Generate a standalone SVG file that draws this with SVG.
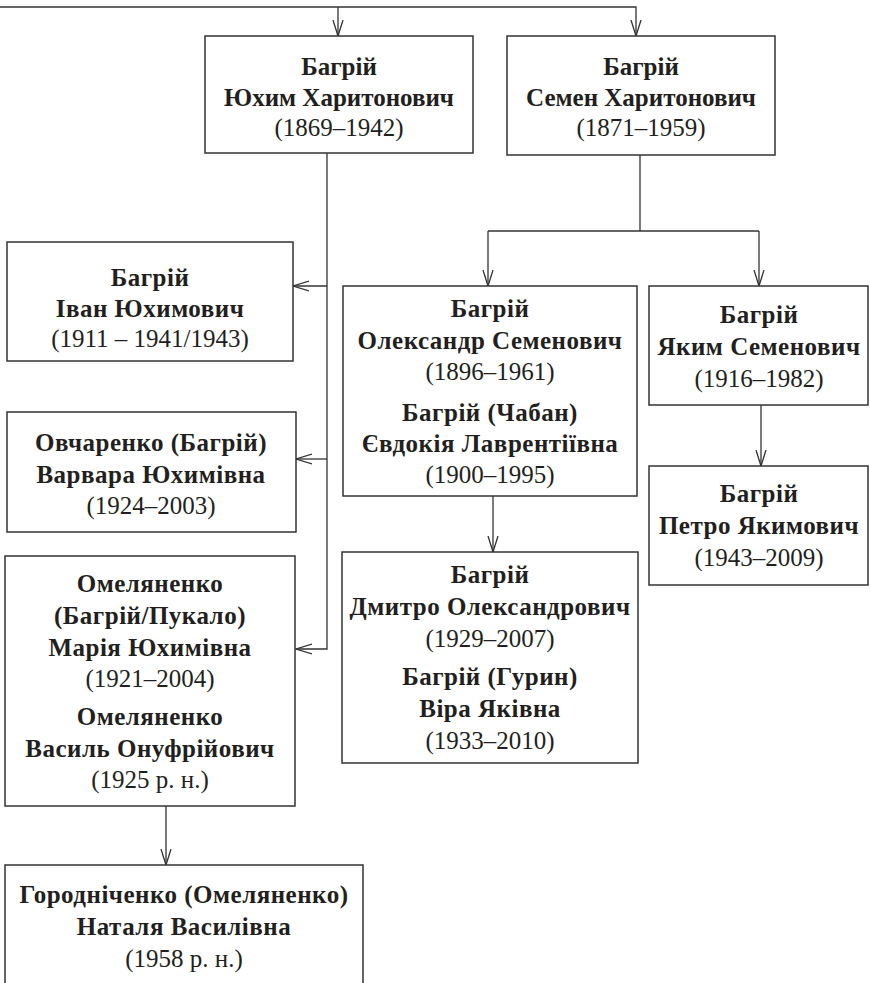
<svg xmlns="http://www.w3.org/2000/svg" width="870" height="983" viewBox="0 0 870 983">
<defs>
<marker id="arr" markerUnits="userSpaceOnUse" markerWidth="20" markerHeight="14" refX="16" refY="6" orient="auto">
<path d="M0,1 L16,6 L0,11" fill="none" stroke="#333" stroke-width="1.3"/>
</marker>
<style>
.box{fill:#fff;stroke:#333;stroke-width:1.5}
.con{fill:none;stroke:#333;stroke-width:1.3}
text{font-family:"Liberation Serif","Times New Roman",serif;fill:#231f20;text-anchor:middle;font-size:25px}
.b{font-weight:bold;letter-spacing:0.5px}
.top{font-size:25px;letter-spacing:0}
</style>
</defs>
<rect width="870" height="983" fill="#fff"/>
<g id="connectors">
<path class="con" d="M0,7 H636 V36" marker-end="url(#arr)"/>
<path class="con" d="M338,7 V36" marker-end="url(#arr)"/>
<path class="con" d="M327,153 V649 H296" marker-end="url(#arr)"/>
<path class="con" d="M327,286 H293" marker-end="url(#arr)"/>
<path class="con" d="M327,459 H296" marker-end="url(#arr)"/>
<path class="con" d="M640,155 V231 M488,231 H759"/>
<path class="con" d="M488,231 V286" marker-end="url(#arr)"/>
<path class="con" d="M759,231 V286" marker-end="url(#arr)"/>
<path class="con" d="M493,496 V552" marker-end="url(#arr)"/>
<path class="con" d="M761,405 V466" marker-end="url(#arr)"/>
<path class="con" d="M166,806 V865" marker-end="url(#arr)"/>
</g>
<g id="yukhym">
<rect class="box" x="205" y="36" width="268" height="117"/>
<text class="b top" x="339" y="75">Багрій</text>
<text class="b top" x="339" y="106">Юхим Харитонович</text>
<text class="top" x="339" y="136">(1869–1942)</text>
</g>
<g id="semen">
<rect class="box" x="507" y="36" width="268" height="119"/>
<text class="b top" x="641" y="75">Багрій</text>
<text class="b top" x="641" y="106">Семен Харитонович</text>
<text class="top" x="641" y="136">(1871–1959)</text>
</g>
<g id="ivan">
<rect class="box" x="7" y="242" width="286" height="119"/>
<text class="b" x="150" y="286">Багрій</text>
<text class="b" x="150" y="317">Іван Юхимович</text>
<text x="150" y="347">(1911 – 1941/1943)</text>
</g>
<g id="varvara">
<rect class="box" x="7" y="412" width="289" height="120"/>
<text class="b" x="151" y="451">Овчаренко (Багрій)</text>
<text class="b" x="151" y="483">Варвара Юхимівна</text>
<text x="151" y="514">(1924–2003)</text>
</g>
<g id="mariia">
<rect class="box" x="5" y="556" width="290" height="250"/>
<text class="b" x="150" y="592">Омеляненко</text>
<text class="b" x="150" y="624">(Багрій/Пукало)</text>
<text class="b" x="150" y="656">Марія Юхимівна</text>
<text x="150" y="687">(1921–2004)</text>
<text class="b" x="150" y="725">Омеляненко</text>
<text class="b" x="150" y="757">Василь Онуфрійович</text>
<text x="150" y="788">(1925 р. н.)</text>
</g>
<g id="natalia">
<rect class="box" x="5" y="865" width="358" height="130"/>
<text class="b" x="184" y="903">Городніченко (Омеляненко)</text>
<text class="b" x="184" y="935">Наталя Василівна</text>
<text x="184" y="967">(1958 р. н.)</text>
</g>
<g id="oleksandr">
<rect class="box" x="343" y="286" width="294" height="210"/>
<text class="b" x="490" y="317">Багрій</text>
<text class="b" x="490" y="349">Олександр Семенович</text>
<text x="490" y="380">(1896–1961)</text>
<text class="b" x="490" y="421">Багрій (Чабан)</text>
<text class="b" x="490" y="452">Євдокія Лаврентіївна</text>
<text x="490" y="483">(1900–1995)</text>
</g>
<g id="yakym">
<rect class="box" x="649" y="286" width="219" height="119"/>
<text class="b" x="759" y="323">Багрій</text>
<text class="b" x="759" y="355">Яким Семенович</text>
<text x="759" y="387">(1916–1982)</text>
</g>
<g id="dmytro">
<rect class="box" x="342" y="552" width="296" height="211"/>
<text class="b" x="490" y="583">Багрій</text>
<text class="b" x="490" y="615">Дмитро Олександрович</text>
<text x="490" y="647">(1929–2007)</text>
<text class="b" x="490" y="685">Багрій (Гурин)</text>
<text class="b" x="490" y="717">Віра Яківна</text>
<text x="490" y="749">(1933–2010)</text>
</g>
<g id="petro">
<rect class="box" x="649" y="466" width="219" height="119"/>
<text class="b" x="759" y="502">Багрій</text>
<text class="b" x="759" y="534">Петро Якимович</text>
<text x="759" y="566">(1943–2009)</text>
</g>
</svg>
